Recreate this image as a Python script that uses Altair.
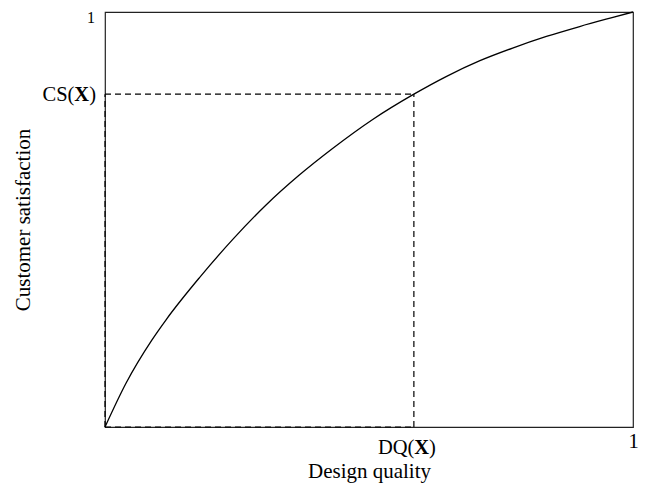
import altair as alt
import pandas as pd

# curve (design quality -> customer satisfaction)
curve_x = [0.0, 0.040, 0.089, 0.116, 0.179, 0.242, 0.305, 0.368, 0.431, 0.507,
           0.585, 0.647, 0.709, 0.772, 0.836, 0.899, 0.962, 1.0]
curve_y = [0.0, 0.106, 0.210, 0.259, 0.360, 0.452, 0.535, 0.607, 0.671, 0.741,
           0.802, 0.845, 0.882, 0.913, 0.941, 0.965, 0.987, 1.0]

dq_value = 0.585
cs_value = 0.802

cs_parts = ["CS(", "X", ")"]
dq_parts = ["DQ(", "X", ")"]
one_label = "1"
x_title = "Design quality"
y_title = "Customer satisfaction"

FONT = "Liberation Serif"
FS = 20.5
TFS = 21

curve_df = pd.DataFrame({"x": curve_x, "y": curve_y})
guides_df = pd.DataFrame({
    "x": [0.0, dq_value, 0.0, 0.0],
    "y": [cs_value, 0.0, 0.0, 0.0],
    "x2": [dq_value, dq_value, dq_value, 0.0],
    "y2": [cs_value, cs_value, 0.0, cs_value],
})

xscale = alt.Scale(domain=[0, 1], nice=False, zero=False)
yscale = alt.Scale(domain=[0, 1], nice=False, zero=False)
xaxis = alt.Axis(title=x_title, labels=False, ticks=False, domain=False, grid=False,
                 titleFont=FONT, titleFontSize=TFS, titleFontWeight="normal",
                 titleColor="black", titleBaseline="alphabetic", titlePadding=50)
yaxis = alt.Axis(title=y_title, labels=False, ticks=False, domain=False, grid=False,
                 titleFont=FONT, titleFontSize=TFS, titleFontWeight="normal",
                 titleColor="black", titleBaseline="alphabetic", titlePadding=76)
X = alt.X("x:Q", scale=xscale, axis=xaxis)
Y = alt.Y("y:Q", scale=yscale, axis=yaxis)

curve = alt.Chart(curve_df).mark_line(
    color="black", strokeWidth=1.3, interpolate="monotone"
).encode(x=X, y=Y)

guides = alt.Chart(guides_df).mark_rule(
    color="black", strokeWidth=1.2, strokeDash=[6, 4]
).encode(x=X, y=Y, x2=alt.X2("x2"), y2=alt.Y2("y2"))


def text_layer(xv, yv, txt, align, dx, dy, size=FS, weight="normal"):
    df = pd.DataFrame({"x": [xv], "y": [yv], "t": [txt]})
    return alt.Chart(df).mark_text(
        font=FONT, fontSize=size, fontWeight=weight, color="black",
        align=align, baseline="alphabetic", dx=dx, dy=dy
    ).encode(x=X, y=Y, text="t:N")


w_paren = 0.333 * FS
w_bx = 0.722 * FS
w_dq = (0.722 + 0.722 + 0.333) * FS

labels = [
    # CS(X) on the y side, right-aligned pieces
    text_layer(0.0, cs_value, cs_parts[2], "right", -9, 6.5),
    text_layer(0.0, cs_value, cs_parts[1], "right", -9 - w_paren, 6.5, weight="bold"),
    text_layer(0.0, cs_value, cs_parts[0], "right", -9 - w_paren - w_bx, 6.5),
    # DQ(X) on the x side, left-aligned pieces
    text_layer(dq_value, 0.0, dq_parts[0], "left", -36, 26.6),
    text_layer(dq_value, 0.0, dq_parts[1], "left", -36 + w_dq, 26.6, weight="bold"),
    text_layer(dq_value, 0.0, dq_parts[2], "left", -36 + w_dq + w_bx, 26.6),
    # the two "1" labels
    text_layer(0.0, 1.0, one_label, "right", -10, 10.5, size=16),
    text_layer(1.0, 0.0, one_label, "center", 0.5, 21.3, size=FS),
]

chart = alt.layer(curve, guides, *labels).properties(
    width=528, height=415,
    autosize=alt.AutoSizeParams(type="none"),
    padding={"left": 97, "top": 4, "right": 6, "bottom": 60},
    background="white",
).configure_view(stroke="#222222", strokeWidth=1.2)

chart.save("out.html", embed_options={"renderer": "svg", "actions": False})
